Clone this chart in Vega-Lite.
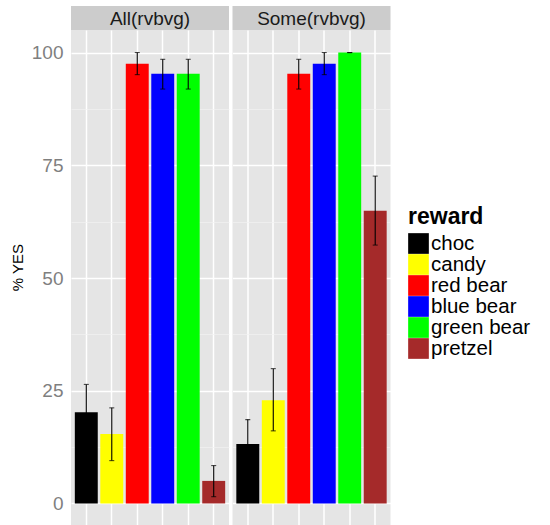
{
  "$schema": "https://vega.github.io/schema/vega-lite/v6.json",
  "padding": {"left": 10, "top": 6, "right": 0, "bottom": 0},
  "config": {
    "font": "Liberation Sans",
    "view": {"fill": "#e5e5e5", "stroke": null},
    "axis": {"ticks": false, "domain": false},
    "legend": {"rowPadding": -1.5}
  },
  "datasets": {
    "bars": [
      {"cond": "All(rvbvg)", "reward": "choc", "pct": 20.2, "lo": 14.0, "hi": 26.4},
      {"cond": "All(rvbvg)", "reward": "candy", "pct": 15.4, "lo": 9.5, "hi": 21.2},
      {"cond": "All(rvbvg)", "reward": "red bear", "pct": 97.5, "lo": 95.1, "hi": 100.0},
      {"cond": "All(rvbvg)", "reward": "blue bear", "pct": 95.3, "lo": 91.9, "hi": 98.5},
      {"cond": "All(rvbvg)", "reward": "green bear", "pct": 95.3, "lo": 91.9, "hi": 98.5},
      {"cond": "All(rvbvg)", "reward": "pretzel", "pct": 5.0, "lo": 1.5, "hi": 8.4},
      {"cond": "Some(rvbvg)", "reward": "choc", "pct": 13.2, "lo": 7.8, "hi": 18.6},
      {"cond": "Some(rvbvg)", "reward": "candy", "pct": 22.9, "lo": 16.1, "hi": 29.9},
      {"cond": "Some(rvbvg)", "reward": "red bear", "pct": 95.3, "lo": 91.9, "hi": 98.5},
      {"cond": "Some(rvbvg)", "reward": "blue bear", "pct": 97.5, "lo": 95.1, "hi": 100.0},
      {"cond": "Some(rvbvg)", "reward": "green bear", "pct": 100.0, "lo": 100.0, "hi": 100.0},
      {"cond": "Some(rvbvg)", "reward": "pretzel", "pct": 64.9, "lo": 57.3, "hi": 72.6}
    ],
    "strips": [
      {"cond": "All(rvbvg)"},
      {"cond": "Some(rvbvg)"}
    ]
  },
  "columns": 2,
  "spacing": {"row": 0, "column": 3.5},
  "concat": [
    {
      "width": 158, "height": 24,
      "view": {"fill": "#cccccc", "stroke": null},
      "data": {"name": "strips"},
      "transform": [{"filter": "datum.cond == 'All(rvbvg)'"}],
      "mark": {"type": "text", "fontSize": 19, "color": "#1a1a1a", "baseline": "middle", "dy": 1},
      "encoding": {"text": {"field": "cond"}}
    },
    {
      "width": 158, "height": 24,
      "view": {"fill": "#cccccc", "stroke": null},
      "data": {"name": "strips"},
      "transform": [{"filter": "datum.cond == 'Some(rvbvg)'"}],
      "mark": {"type": "text", "fontSize": 19, "color": "#1a1a1a", "baseline": "middle", "dy": 1},
      "encoding": {"text": {"field": "cond"}}
    },
    {
      "width": 158, "height": 496,
      "data": {"name": "bars"},
      "transform": [{"filter": "datum.cond == 'All(rvbvg)'"}],
      "encoding": {
        "x": {"field": "reward", "type": "nominal", "sort": ["choc", "candy", "red bear", "blue bear", "green bear", "pretzel"],
              "scale": {"paddingInner": 0.1, "paddingOuter": 0.15},
              "axis": {"title": null, "labels": false, "grid": true, "gridColor": "#ffffff", "gridWidth": 1.5}}
      },
      "layer": [
        {
          "mark": {"type": "bar"},
          "encoding": {
            "y": {"field": "pct", "type": "quantitative",
                  "scale": {"domain": [-5, 105], "nice": false, "zero": false},
                  "axis": {"title": "% YES", "titleFontSize": 15, "titleFontWeight": "normal", "titleColor": "#000000", "titlePadding": 6, "titleY": 237,
                           "values": [0, 12.5, 25, 37.5, 50, 62.5, 75, 87.5, 100],
                           "labelExpr": "datum.value % 25 === 0 ? datum.label : ''",
                           "labelFontSize": 19, "labelColor": "#7f7f7f", "labelPadding": 8,
                           "gridColor": {"condition": {"test": "datum.value % 25 === 0", "value": "#ffffff"}, "value": "#f2f2f2"},
                           "gridWidth": {"condition": {"test": "datum.value % 25 === 0", "value": 1.5}, "value": 0.7}}},
            "y2": {"datum": 0},
            "color": {"field": "reward", "type": "nominal",
                      "scale": {"domain": ["choc", "candy", "red bear", "blue bear", "green bear", "pretzel"],
                                "range": ["#000000", "#ffff00", "#ff0000", "#0000ff", "#00ff00", "#a52a2a"]},
                      "legend": {"title": "reward", "orient": "none", "legendX": 337, "legendY": 200, "padding": 0,
                                 "titleFontSize": 23, "titleFontWeight": "bold", "titleColor": "#000000", "titlePadding": 4,
                                 "labelFontSize": 20.5, "labelColor": "#000000", "labelOffset": 2,
                                 "symbolType": "square", "symbolSize": 428, "symbolStrokeWidth": 0}}
          }
        },
        {
          "mark": {"type": "errorbar", "color": "#000000", "thickness": 1.1, "ticks": {"size": 5}},
          "encoding": {
            "y": {"field": "lo", "type": "quantitative",
                  "axis": {"title": "% YES", "titleFontSize": 15, "titleFontWeight": "normal", "titleColor": "#000000", "titlePadding": 6, "titleY": 237,
                           "values": [0, 12.5, 25, 37.5, 50, 62.5, 75, 87.5, 100],
                           "labelExpr": "datum.value % 25 === 0 ? datum.label : ''",
                           "labelFontSize": 19, "labelColor": "#7f7f7f", "labelPadding": 8,
                           "gridColor": {"condition": {"test": "datum.value % 25 === 0", "value": "#ffffff"}, "value": "#f2f2f2"},
                           "gridWidth": {"condition": {"test": "datum.value % 25 === 0", "value": 1.5}, "value": 0.7}}},
            "y2": {"field": "hi"}
          }
        }
      ]
    },
    {
      "width": 158, "height": 496,
      "data": {"name": "bars"},
      "transform": [{"filter": "datum.cond == 'Some(rvbvg)'"}],
      "encoding": {
        "x": {"field": "reward", "type": "nominal", "sort": ["choc", "candy", "red bear", "blue bear", "green bear", "pretzel"],
              "scale": {"paddingInner": 0.1, "paddingOuter": 0.15},
              "axis": {"title": null, "labels": false, "grid": true, "gridColor": "#ffffff", "gridWidth": 1.5}}
      },
      "layer": [
        {
          "mark": {"type": "bar"},
          "encoding": {
            "y": {"field": "pct", "type": "quantitative",
                  "scale": {"domain": [-5, 105], "nice": false, "zero": false},
                  "axis": {"title": null, "labels": false,
                           "values": [0, 12.5, 25, 37.5, 50, 62.5, 75, 87.5, 100],
                           "gridColor": {"condition": {"test": "datum.value % 25 === 0", "value": "#ffffff"}, "value": "#f2f2f2"},
                           "gridWidth": {"condition": {"test": "datum.value % 25 === 0", "value": 1.5}, "value": 0.7}}},
            "y2": {"datum": 0},
            "color": {"field": "reward", "type": "nominal",
                      "scale": {"domain": ["choc", "candy", "red bear", "blue bear", "green bear", "pretzel"],
                                "range": ["#000000", "#ffff00", "#ff0000", "#0000ff", "#00ff00", "#a52a2a"]},
                      "legend": {"title": "reward", "orient": "none", "legendX": 337, "legendY": 200, "padding": 0,
                                 "titleFontSize": 23, "titleFontWeight": "bold", "titleColor": "#000000", "titlePadding": 4,
                                 "labelFontSize": 20.5, "labelColor": "#000000", "labelOffset": 2,
                                 "symbolType": "square", "symbolSize": 428, "symbolStrokeWidth": 0}}
          }
        },
        {
          "mark": {"type": "errorbar", "color": "#000000", "thickness": 1.1, "ticks": {"size": 5}},
          "encoding": {
            "y": {"field": "lo", "type": "quantitative",
                  "axis": {"title": null, "labels": false,
                           "values": [0, 12.5, 25, 37.5, 50, 62.5, 75, 87.5, 100],
                           "gridColor": {"condition": {"test": "datum.value % 25 === 0", "value": "#ffffff"}, "value": "#f2f2f2"},
                           "gridWidth": {"condition": {"test": "datum.value % 25 === 0", "value": 1.5}, "value": 0.7}}},
            "y2": {"field": "hi"}
          }
        }
      ]
    }
  ]
}
